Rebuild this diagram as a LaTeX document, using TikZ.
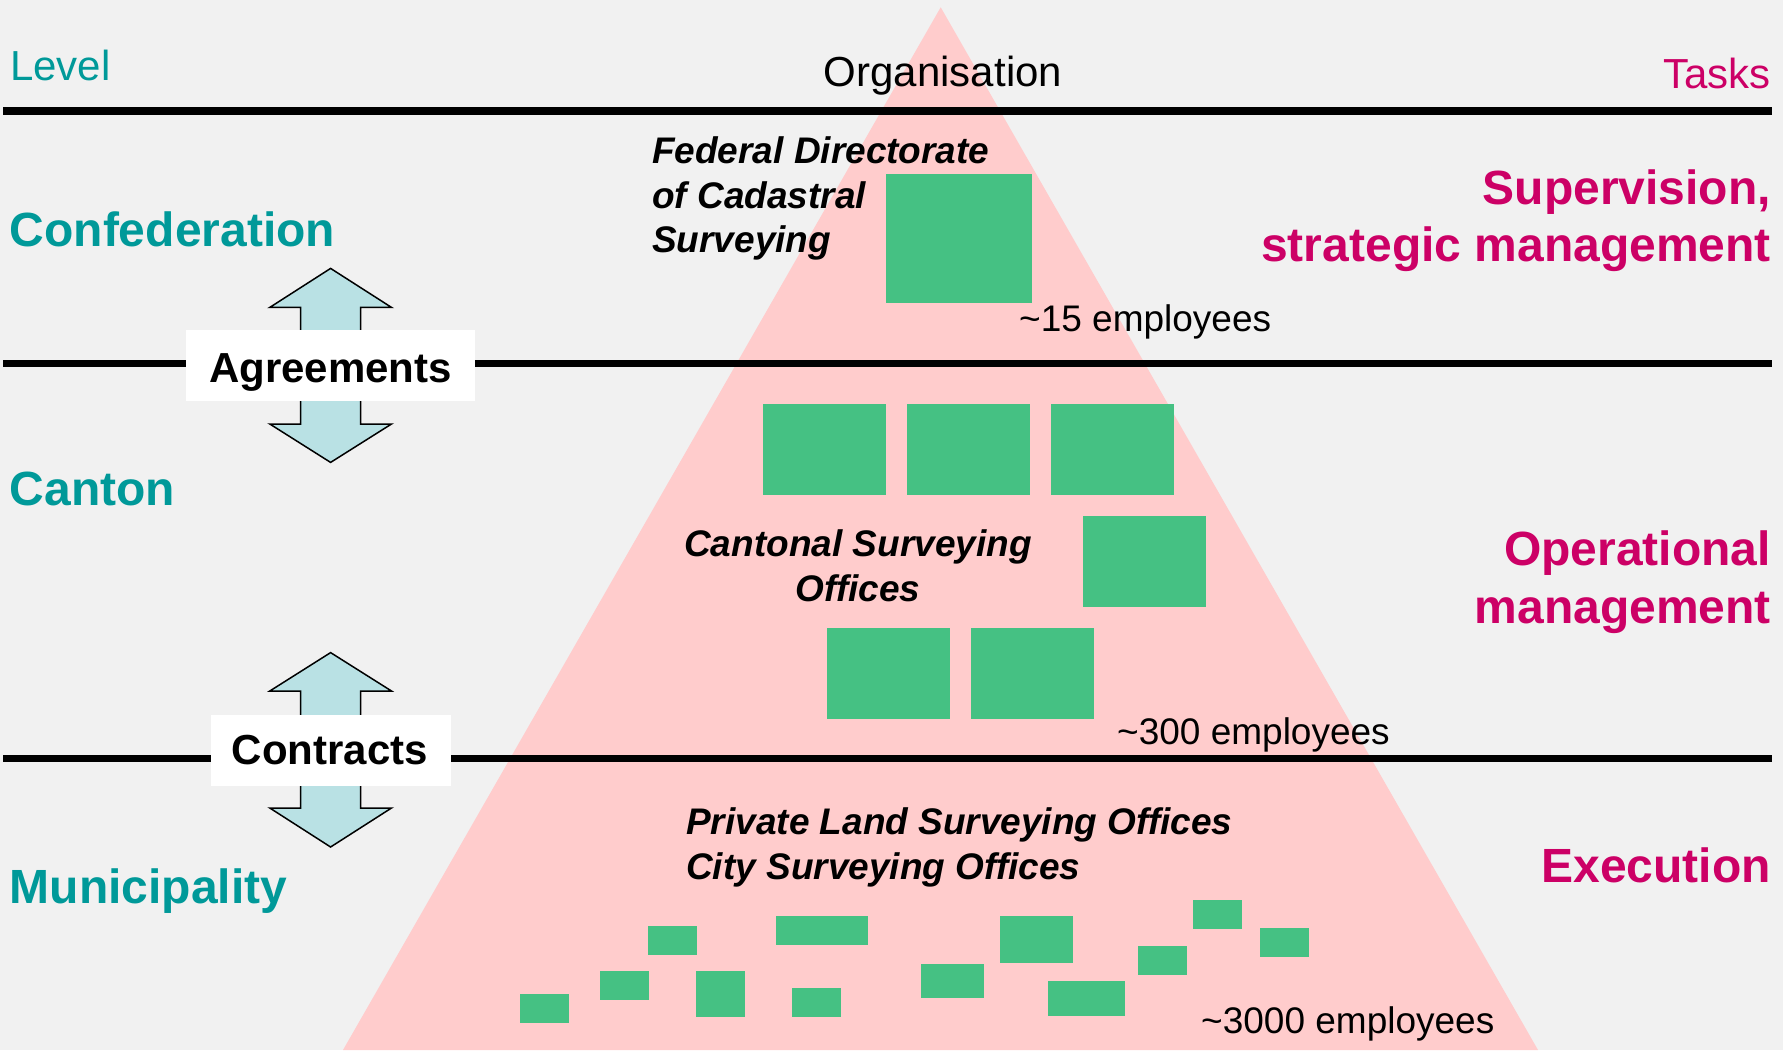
\documentclass[tikz,border=0pt]{standalone}
\usepackage{fontspec}
\setmainfont{Liberation Sans}
\definecolor{bgc}{RGB}{241,241,241}
\definecolor{teal1}{RGB}{0,153,153}
\definecolor{mag1}{RGB}{204,0,102}
\definecolor{green1}{RGB}{69,193,131}
\definecolor{pink1}{RGB}{255,204,204}
\definecolor{arrowc}{RGB}{185,225,228}
\tikzset{
  lvl/.style={font=\fontsize{48}{56}\selectfont\bfseries, text=teal1, inner sep=0pt, anchor=base west},
  task/.style={font=\fontsize{48}{56}\selectfont\bfseries, text=mag1, inner sep=0pt, anchor=base east},
  head/.style={font=\fontsize{42}{50}\selectfont, inner sep=0pt},
  org/.style={font=\fontsize{37}{44}\selectfont\bfseries\itshape, inner sep=0pt},
  emp/.style={font=\fontsize{37}{44}\selectfont, inner sep=0pt, anchor=base west},
  gbox/.style={fill=green1},
  sepline/.style={line width=7.6pt, draw=black},
  dblarrow/.style={fill=arrowc, draw=black, line width=1.5pt, line join=miter},
  whitebox/.style={fill=white, draw=none, inner sep=0pt},
  boxlabel/.style={font=\fontsize{42}{50}\selectfont\bfseries, inner sep=0pt, anchor=base},
}
\begin{document}
\begin{tikzpicture}[x=1pt,y=-1pt]
\useasboundingbox (0,0) rectangle (1783,1050);
\fill[bgc] (0,0) rectangle (1783,1050);
% pyramid
\fill[pink1] (940.7,7.3) -- (1538,1050) -- (343,1050) -- cycle;
% separating lines
\draw[sepline] (3.4,110.7) -- (1772,110.7);
\draw[sepline] (3.4,363.3) -- (1772,363.3);
\draw[sepline] (3.4,758.5) -- (1772,758.5);
% green boxes: federal
\fill[gbox] (886,174) rectangle (1032,303);
% cantonal
\fill[gbox] (763,404) rectangle (886,494.7);
\fill[gbox] (907,404) rectangle (1030,494.7);
\fill[gbox] (1051,404) rectangle (1174,494.7);
\fill[gbox] (1083,516) rectangle (1206,606.7);
\fill[gbox] (827,628) rectangle (950,718.7);
\fill[gbox] (971,628) rectangle (1094,718.7);
% municipal
\fill[gbox] (519.7,994) rectangle (568.9,1022.7);
\fill[gbox] (600.4,971) rectangle (648.8,999.7);
\fill[gbox] (648,926) rectangle (697.2,954.7);
\fill[gbox] (695.8,971) rectangle (745,1016.7);
\fill[gbox] (775.7,916) rectangle (867.5,944.7);
\fill[gbox] (791.9,988) rectangle (841,1016.7);
\fill[gbox] (921,964) rectangle (984,997.7);
\fill[gbox] (1000.3,916) rectangle (1073,962.7);
\fill[gbox] (1048,981) rectangle (1125,1015.7);
\fill[gbox] (1138,946) rectangle (1187.3,974.7);
\fill[gbox] (1192.5,900) rectangle (1241.6,928.7);
\fill[gbox] (1260,928) rectangle (1309,956.7);
% double arrows
\draw[dblarrow] (330.6,268.4) -- (391.5,307.4) -- (360.5,307.4) -- (360.5,424) -- (391.5,424)
  -- (330.6,462.4) -- (269.8,424) -- (300.5,424) -- (300.5,307.4) -- (269.8,307.4) -- cycle;
\draw[dblarrow] (330.6,652.6) -- (391.5,691) -- (360.5,691) -- (360.5,808) -- (391.5,808)
  -- (330.6,847) -- (269.8,808) -- (300.5,808) -- (300.5,691) -- (269.8,691) -- cycle;
% label boxes
\node[whitebox, minimum width=289pt, minimum height=70.8pt] (agrbox) at (330.5,365.4) {};
\node[boxlabel] (agr) at (330.6,382) {Agreements};
\node[whitebox, minimum width=240.3pt, minimum height=70.8pt] (conbox) at (331,750.4) {};
\node[boxlabel] (con) at (329.7,764.7) {Contracts};
% headers
\node[head, text=teal1, anchor=base west] (level) at (10,80) {Level};
\node[head, anchor=base] (orgh) at (943,86) {Organisation};
\node[head, text=mag1, anchor=base east] (tasks) at (1771,88) {Tasks};
% levels
\node[lvl] (conf) at (9.5,246.7) {Confederation};
\node[lvl] (canton) at (9.5,505.6) {Canton};
\node[lvl] (muni) at (9.5,903) {Municipality};
% tasks
\node[task] (sup1) at (1771,204) {Supervision,};
\node[task] (sup2) at (1771,261.7) {strategic management};
\node[task] (op1) at (1771,565) {Operational};
\node[task] (op2) at (1771,623.3) {management};
\node[task] (exe) at (1771,882.7) {Execution};
% organisation labels
\node[org, anchor=base west] (fed1) at (652,163.5) {Federal Directorate};
\node[org, anchor=base west] (fed2) at (652,208) {of Cadastral};
\node[org, anchor=base west] (fed3) at (652,252.5) {Surveying};
\node[emp] (emp15) at (1019,331) {\textasciitilde15 employees};
\node[org, anchor=base] (can1) at (858,556) {Cantonal Surveying};
\node[org, anchor=base] (can2) at (858,601) {Offices};
\node[emp] (emp300) at (1117,744.5) {\textasciitilde300 employees};
\node[org, anchor=base west] (priv1) at (686,834) {Private Land Surveying Offices};
\node[org, anchor=base west] (priv2) at (686,879) {City Surveying Offices};
\node[emp] (emp3000) at (1201,1033.5) {\textasciitilde3000 employees};
\end{tikzpicture}
\end{document}
